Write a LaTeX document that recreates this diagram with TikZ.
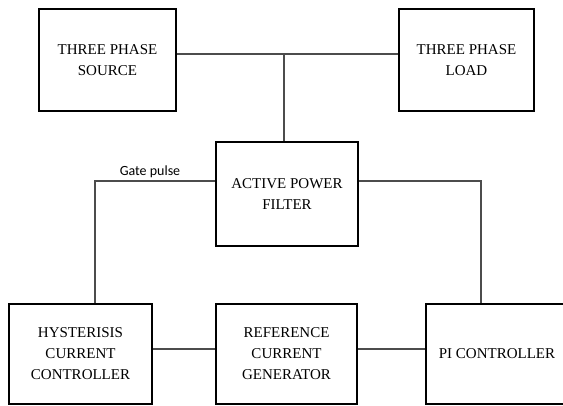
\documentclass[tikz,border=0pt]{standalone}
\usepackage{fontspec}
\setmainfont{Liberation Serif}
\newfontfamily\labelfont{Carlito}
\usepackage{xcolor}
\usepackage{tikz}
\usetikzlibrary{positioning,calc}

\begin{document}
\begin{tikzpicture}[
  x=1pt, y=-1pt,
  box/.style={rectangle, draw, line width=2.4pt, minimum height=102pt, align=center,
    inner sep=0pt, font=\fontsize{15}{21}\selectfont},
  link/.style={draw=black!70, line width=1.4pt}
]
  \useasboundingbox (0,0) rectangle (563,406);

  \node[box, minimum width=137pt] (source) at (107.5,60) {THREE PHASE\\SOURCE};
  \node[box, minimum width=135pt] (load) at (466.5,60) {THREE PHASE\\LOAD};
  \node[box, minimum width=142pt, minimum height=104pt] (apf) at (287,194) {ACTIVE POWER\\FILTER};
  \node[box, minimum width=143pt, minimum height=100pt] (hyst) at (80.5,354) {HYSTERISIS\\CURRENT\\CONTROLLER};
  \node[box, minimum width=141pt, minimum height=100pt] (refgen) at (286.5,354) {REFERENCE\\CURRENT\\GENERATOR};
  \node[box, minimum width=142pt, minimum height=100pt] (pic) at (497,354) {PI CONTROLLER};

  \coordinate (tap) at (284,54);
  \coordinate (gate) at (95,181);
  \coordinate (feed) at (481,181);
  \coordinate (bus) at (0,349);

  \draw[link] (source.east |- tap) -- (load.west |- tap);
  \draw[link] (tap) -- (tap |- apf.north);
  \draw[link] (apf.west |- gate) -- (gate) -- (gate |- hyst.north);
  \draw[link] (apf.east |- feed) -- (feed) -- (feed |- pic.north);
  \draw[link] (hyst.east |- bus) -- (refgen.west |- bus);
  \draw[link] (refgen.east |- bus) -- (pic.west |- bus);

  \node[font=\labelfont\fontsize{14}{16}\selectfont, anchor=base, inner sep=0pt] (gatelabel) at (150,176) {Gate pulse};
\end{tikzpicture}
\end{document}
